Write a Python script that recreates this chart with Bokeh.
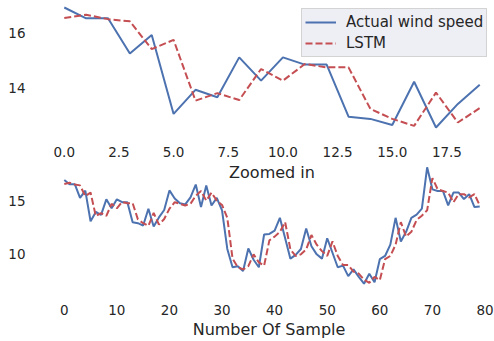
from bokeh.plotting import figure
from bokeh.layouts import column
from bokeh.models import (Legend, LegendItem, Label, SingleIntervalTicker,
                          NumeralTickFormatter, Range1d)
from bokeh.embed import file_html
from bokeh.resources import INLINE

# ---------------- data ----------------
actual = [16.92, 16.53, 16.53, 15.26, 15.93, 13.08, 13.95, 13.68, 15.12, 14.28,
          15.12, 14.86, 14.86, 12.98, 12.90, 12.68, 14.24, 12.59, 13.44, 14.13,
          15.95, 15.20, 14.75, 14.65, 15.30, 16.50, 14.40, 16.40, 14.55, 15.25,
          14.10, 10.50, 8.80, 8.90, 8.45, 10.55, 9.50, 8.80, 11.85, 11.90,
          12.20, 13.40, 11.50, 9.60, 9.95, 10.50, 12.40, 10.75, 10.00, 9.60,
          11.50, 10.15, 8.80, 8.95, 7.97, 8.60, 7.90, 7.27, 8.20, 7.40,
          9.55, 9.85, 10.90, 13.40, 11.20, 12.10, 13.40, 13.70, 14.25, 18.10,
          16.05, 15.90, 15.90, 14.55, 15.75, 15.75, 15.15, 15.60, 14.40, 14.45]
lstm = [16.54, 16.66, 16.50, 16.42, 15.42, 15.75, 13.56, 13.83, 13.58, 14.70,
        14.28, 14.88, 14.76, 14.76, 13.26, 12.90, 12.65, 13.85, 12.77, 13.29,
        14.25, 14.85, 14.70, 14.55, 14.70, 15.45, 15.90, 15.00, 15.75, 15.00,
        14.60, 13.40, 9.60, 8.80, 8.60, 8.90, 10.00, 9.25, 8.95, 11.30,
        11.65, 12.10, 13.00, 10.45, 9.85, 10.00, 10.45, 11.80, 10.90, 10.30,
        9.85, 11.20, 9.85, 9.00, 9.00, 8.40, 8.20, 7.65, 7.35, 7.90,
        7.60, 9.55, 9.85, 10.90, 13.00, 11.65, 12.10, 13.20, 13.60, 14.10,
        17.10, 16.05, 15.90, 15.75, 14.85, 15.60, 15.60, 15.30, 15.60, 14.55]
n_zoom = 20
samples = list(range(len(actual)))
zoom_samples = samples[:n_zoom]
zoom_actual = actual[:n_zoom]
zoom_lstm = lstm[:n_zoom]

series_labels = ["Actual wind speed", "LSTM"]
top_xlabel = "Zoomed in"
bottom_xlabel = "Number Of Sample"

# ---------------- style ----------------
BLUE = "#4C72B0"
RED = "#C44E52"
TXT = "#262626"
FONT = "DejaVu Sans"
W = 494
LEFT = 43
VISIBLE = 451 / 457  # right part of the axes is cut off at the window edge


def mpl_limits(vals, margin=0.05):
    lo, hi = min(vals), max(vals)
    d = (hi - lo) * margin
    return lo - d, hi + d


def style(p):
    p.outline_line_color = None
    p.xgrid.visible = False
    p.ygrid.visible = False
    p.background_fill_color = "white"
    p.border_fill_color = "white"
    for ax in (p.xaxis[0], p.yaxis[0]):
        ax.axis_line_color = None
        ax.major_tick_line_color = None
        ax.minor_tick_line_color = None
        ax.major_tick_out = 0
        ax.major_tick_in = 0
        ax.major_label_text_font = FONT
        ax.major_label_text_font_size = "13.5px"
        ax.major_label_text_color = TXT
        ax.axis_label_text_font = FONT
        ax.axis_label_text_font_size = "16px"
        ax.axis_label_text_color = TXT
        ax.axis_label_text_font_style = "normal"
    p.yaxis[0].major_label_standoff = 14
    p.xaxis[0].major_label_standoff = 11


def xrange_for(xs):
    lo, hi = mpl_limits(xs)
    return Range1d(lo, lo + (hi - lo) * VISIBLE), (lo + hi) / 2


# ---------------- top (zoomed) ----------------
xr1, _ = xrange_for(zoom_samples)
y1lo, y1hi = mpl_limits(zoom_actual + zoom_lstm)
p1 = figure(width=W, height=161, x_range=xr1, y_range=Range1d(y1lo, y1hi),
            output_backend="svg", toolbar_location=None,
            min_border_left=LEFT, min_border_right=0, min_border_top=1,
            min_border_bottom=28)
r1 = p1.line(zoom_samples, zoom_actual, line_color=BLUE, line_width=2)
r2 = p1.line(zoom_samples, zoom_lstm, line_color=RED, line_width=2,
             line_dash="7 3")
style(p1)
p1.xaxis[0].major_label_standoff = 9
p1.xaxis[0].ticker = SingleIntervalTicker(interval=2.5)
p1.xaxis[0].formatter = NumeralTickFormatter(format="0.0")
p1.yaxis[0].ticker = SingleIntervalTicker(interval=2)

legend = Legend(items=[LegendItem(label=series_labels[0], renderers=[r1]),
                       LegendItem(label=series_labels[1], renderers=[r2])],
                location=(258, 76))
legend.label_text_font = FONT
legend.label_text_font_size = "15px"
legend.label_text_color = TXT
legend.glyph_width = 31
legend.glyph_height = 20
legend.label_height = 20
legend.label_standoff = 10
legend.spacing = 1
legend.padding = 3
legend.margin = 0
legend.background_fill_color = "#EAEAF2"
legend.background_fill_alpha = 0.8
legend.border_line_color = "#CCCCCC"
legend.border_line_alpha = 0.8
p1.add_layout(legend)

# ---------------- bottom (full) ----------------
xr2, xmid2 = xrange_for(samples)
y2lo, y2hi = mpl_limits(actual + lstm)
p2 = figure(width=W, height=180, x_range=xr2, y_range=Range1d(y2lo, y2hi),
            output_backend="svg", toolbar_location=None,
            min_border_left=LEFT, min_border_right=0, min_border_top=0,
            min_border_bottom=50)
p2.line(samples, actual, line_color=BLUE, line_width=2)
p2.line(samples, lstm, line_color=RED, line_width=2, line_dash="7 3")
style(p2)
p2.xaxis[0].ticker = SingleIntervalTicker(interval=10)
p2.yaxis[0].ticker = SingleIntervalTicker(interval=5)
p2.xaxis[0].axis_label = bottom_xlabel
p2.xaxis[0].axis_label_standoff = 2

# label of the zoomed panel, overlapping the top of the lower panel
lab = Label(x=xmid2, y=y2hi - (y2hi - y2lo) * 11 / 130, text=top_xlabel,
            text_align="center", text_baseline="middle",
            text_font=FONT, text_font_size="16px", text_color=TXT)
p2.add_layout(lab)

layout = column(p1, p2, spacing=0)
open("out.html", "w").write(file_html(layout, INLINE))
